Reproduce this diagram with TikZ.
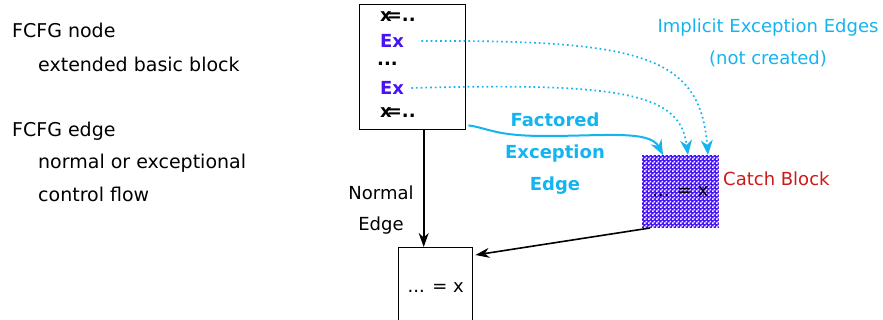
\documentclass[tikz,border=0pt]{standalone}
\usepackage{fontspec}
\setmainfont{DejaVu Sans}
\usetikzlibrary{arrows.meta,patterns,positioning}
\definecolor{excyan}{RGB}{20,180,240}
\definecolor{exblue}{RGB}{70,20,245}
\definecolor{catchred}{RGB}{205,25,25}
\pgfdeclarepatternformonly{finecheck}{\pgfpointorigin}{\pgfqpoint{4pt}{4pt}}{\pgfqpoint{4pt}{4pt}}{%
    \pgfpathrectangle{\pgfqpoint{0.1pt}{0.1pt}}{\pgfqpoint{1.9pt}{1.9pt}}%
    \pgfpathrectangle{\pgfqpoint{2.1pt}{2.1pt}}{\pgfqpoint{1.9pt}{1.9pt}}%
    \pgfusepath{fill}}
\tikzset{
    sidetxt/.style={anchor=base west,inner sep=0pt,font=\fontsize{19}{22}\selectfont},
    stmt/.style={anchor=west,inner sep=0pt,font=\fontsize{18}{21}\selectfont\bfseries},
    extxt/.style={stmt,text=exblue},
    cyantxt/.style={text=excyan,align=center,inner sep=0pt,font=\fontsize{18}{32}\selectfont},
    blk/.style={draw,line width=1.4pt,anchor=north west},
    impedge/.style={excyan,line width=1.7pt,dash pattern=on 1.7pt off 3pt,-{Stealth[length=15pt,width=12pt]}},
    facedge/.style={excyan,line width=2pt,-{Stealth[length=15pt,width=12pt]}},
    normedge/.style={line width=1.6pt,-{Stealth[length=14pt,width=10pt]}}
}
\begin{document}
\begin{tikzpicture}[x=1pt,y=-1pt]
    \clip (0,0) rectangle (883,320);
    % left hand notes
    \node[sidetxt] (t1) at (12,38) {FCFG node};
    \node[sidetxt] (t2) at (38,72) {extended basic block};
    \node[sidetxt] (t3) at (12,137) {FCFG edge};
    \node[sidetxt] (t4) at (38,169) {normal or exceptional};
    \node[sidetxt] (t5) at (38,202) {control flow};

    % extended basic block
    \node[blk,minimum width=106pt,minimum height=125pt] (ebb) at (359,4) {};
    \node[stmt] (s1) at (380,17) {x\kern-5pt=..};
    \node[extxt] (ex1) at (380,41) {Ex};
    \node[stmt] (s2) at (377,64) {...};
    \node[extxt] (ex2) at (380,88) {Ex};
    \node[stmt] (s3) at (380,113) {x\kern-5pt=..};

    % catch block and successor
    \node[blk,draw=exblue,line width=1pt,fill=exblue,
          minimum width=76pt,minimum height=72pt] (catchblk) at (642,155) {};
    \fill[pattern=finecheck,pattern color=white] (catchblk.south west) rectangle (catchblk.north east);
    \node[font=\fontsize{18}{21}\selectfont,inner sep=0pt] (catchtxt) at (catchblk.center) {... = x};
    \node[anchor=west,text=catchred,inner sep=0pt,font=\fontsize{18}{22}\selectfont]
        (catchlbl) at (723,179) {Catch Block};
    \node[blk,minimum width=74pt,minimum height=80pt,font=\fontsize{18}{21}\selectfont] (bot) at (398,247) {... = x};

    % edges
    \draw[normedge] ([xshift=11pt]ebb.south) -- ([xshift=-12pt]bot.north);
    \draw[normedge] ([xshift=8pt]catchblk.south west) -- ([yshift=-8pt,xshift=2pt]bot.north east);
    \draw[facedge] ([shift={(2pt,5pt)}]ebb.south east) .. controls (488,128) and (495,136) .. (545,136)
        .. controls (605,136) and (650,130) .. ([xshift=21pt]catchblk.north west);
    \draw[impedge] ([xshift=17pt]ex1.east) .. controls (640,40) and (700,55) .. ([xshift=66pt]catchblk.north west);
    \draw[impedge] ([xshift=7pt]ex2.east) .. controls (630,82) and (680,95) .. ([xshift=46pt]catchblk.north west);

    % labels
    \node[inner sep=0pt,align=center,font=\fontsize{18}{31}\selectfont] (nlbl) at (381,210) {Normal\\Edge};
    \node[cyantxt,font=\fontsize{18}{32}\selectfont\bfseries] (flbl) at (555,154) {Factored\\Exception\\Edge};
    \node[cyantxt] (ilbl) at (768,43) {Implicit Exception Edges\\(not created)};
\end{tikzpicture}
\end{document}
